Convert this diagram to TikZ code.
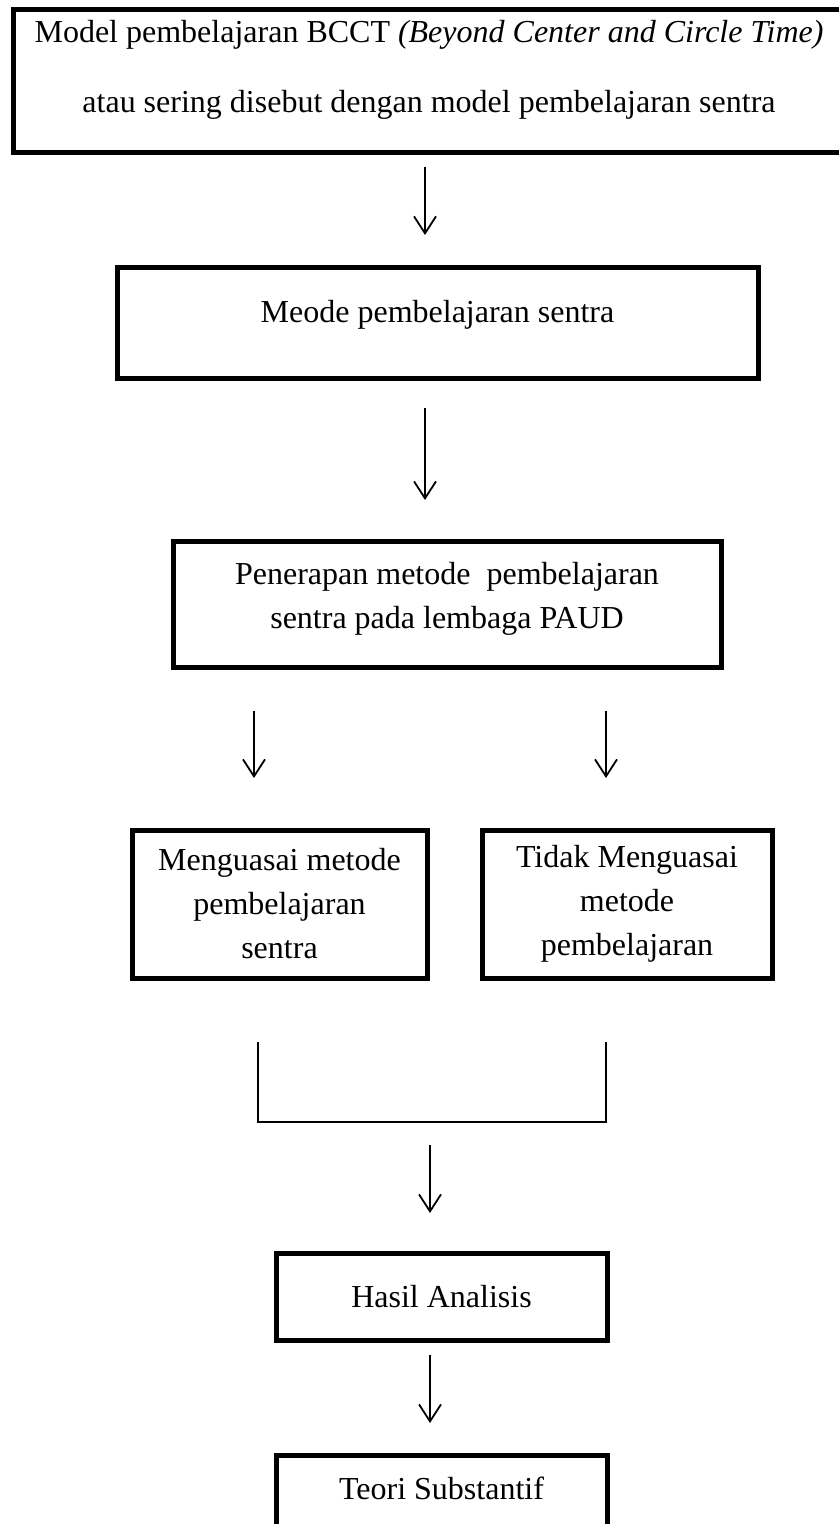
\documentclass[tikz,border=0pt]{standalone}
\usepackage{fontspec}
\setmainfont{Liberation Serif}
\usetikzlibrary{arrows.meta,positioning}
\newcommand{\ganjal}[1]{\rule[-#1]{0pt}{#1}}
\tikzset{kotak/.style={draw,line width=2.5pt,align=center,inner sep=0pt},
         panah/.style={->,line width=0.9pt},
         garis/.style={line width=0.8pt}}

\begin{document}
\begin{tikzpicture}[x=0.5pt,y=-0.5pt,>={Straight Barb[length=8.5pt,width=11pt]},font=\fontsize{16}{22}\selectfont]
  \useasboundingbox (0,0) rectangle (839,1524);

  \node[kotak,minimum width=416pt,minimum height=71.5pt,font=\fontsize{16}{35}\selectfont] (bcct) at (429,81.5)
     {Model pembelajaran BCCT \textit{(Beyond Center and Circle Time)}\\atau sering disebut dengan model pembelajaran sentra\ganjal{15.5pt}};   % top box
  \node[kotak,minimum width=320.5pt,minimum height=55pt] (meode) at (437.5,323) {Meode pembelajaran sentra\ganjal{11.5pt}};
  \node[kotak,minimum width=274pt,minimum height=63pt] (terap) at (447,604)
     {Penerapan metode\ \ pembelajaran\\sentra pada lembaga PAUD\ganjal{8.5pt}};
  \node[kotak,minimum width=147.5pt,minimum height=74pt] (kuasa) at (279.5,904)
     {Menguasai metode\\pembelajaran\\sentra};
  \node[kotak,minimum width=145pt,minimum height=74pt] (tidak) at (627,904)
     {Tidak Menguasai\\metode\\pembelajaran};
  \node[kotak,minimum width=165.5pt,minimum height=43.5pt] (hasil) at (441.5,1296.5) {Hasil Analisis};
  \node[kotak,anchor=north,minimum width=165.5pt,text height=22pt,text depth=30pt] (teori) at (441.5,1453) {Teori Substantif};   % cut at bottom

  \coordinate (a1) at (425,167);  \coordinate (b1) at (425,235);
  \coordinate (a2) at (425,408);  \coordinate (b2) at (425,500);
  \coordinate (a3) at (254,711);  \coordinate (b3) at (254,778);
  \coordinate (a4) at (606,711);  \coordinate (b4) at (606,778);
  \coordinate (a5) at (430,1145); \coordinate (b5) at (430,1213);
  \coordinate (a6) at (430,1355); \coordinate (b6) at (430,1423);
  \draw[panah] (a1) -- (b1);
  \draw[panah] (a2) -- (b2);
  \draw[panah] (a3) -- (b3);
  \draw[panah] (a4) -- (b4);
  \draw[panah] (a5) -- (b5);
  \draw[panah] (a6) -- (b6);

  \coordinate (kiri) at (258,1042);
  \coordinate (kanan) at (606,1042);
  \draw[garis] (kiri) -- ++(0,80) -| (kanan);   % joining bracket

\end{tikzpicture}
\end{document}
